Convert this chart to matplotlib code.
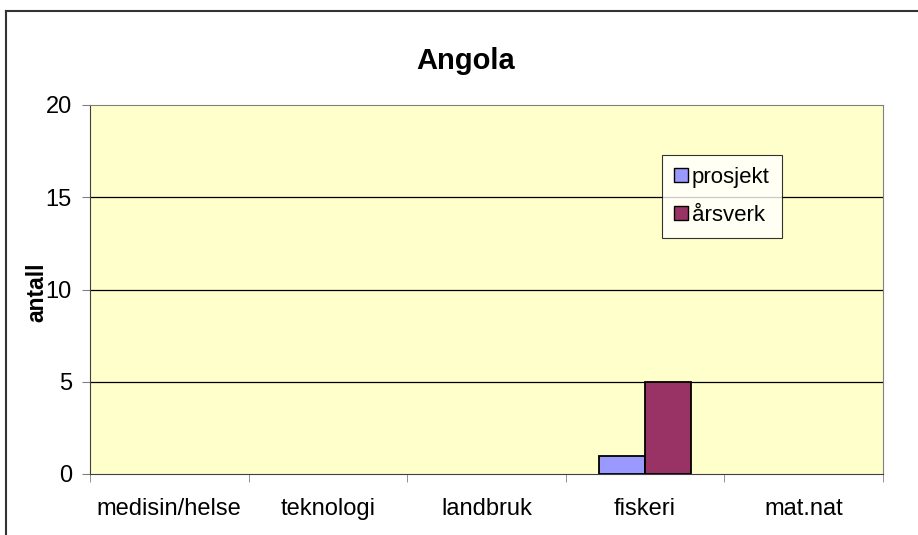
import numpy as np
import matplotlib.pyplot as plt
from matplotlib.lines import Line2D
from matplotlib.patches import Patch

plt.rcParams['font.family'] = ['Liberation Sans', 'DejaVu Sans']

categories = ["medisin/helse", "teknologi", "landbruk", "fiskeri", "mat.nat"]
prosjekt = [0, 0, 0, 1, 0]
aarsverk = [0, 0, 0, 5, 0]
yticks = [0, 5, 10, 15, 20]

BLUE, PLUM = "#9999FF", "#993366"

W, H = 918, 535
fig = plt.figure(figsize=(W / 100, H / 100), dpi=100)
ax = fig.add_axes([90 / W, 1 - 474 / H, (883 - 90) / W, (474 - 105) / H])
ax.set_facecolor("#FFFFCC")


def edges(vals):
    # Excel draws nothing for empty bars
    return ["black" if v else "none" for v in vals]


x = np.arange(len(categories))
bw = 0.29
ax.bar(x - bw / 2, prosjekt, bw, color=BLUE, edgecolor=edges(prosjekt),
       linewidth=1.3, zorder=3)
ax.bar(x + bw / 2, aarsverk, bw, color=PLUM, edgecolor=edges(aarsverk),
       linewidth=1.3, zorder=3)

ax.set_xlim(-0.5, len(categories) - 0.5)
ax.set_ylim(0, 20)
ax.set_yticks(yticks)
ax.set_yticklabels([str(v) for v in yticks], fontsize=17)
for v in yticks[1:-1]:
    ax.axhline(v, color="black", linewidth=0.9, zorder=1)

# category labels centred, tick marks on the boundaries
ax.set_xticks(x)
ax.set_xticklabels(categories, fontsize=17)
ax.tick_params(axis="x", length=0, pad=17)
ax.set_xticks(np.arange(len(categories) + 1) - 0.5, minor=True)
ax.tick_params(axis="x", which="minor", length=6, direction="out", color="#808080")
ax.tick_params(axis="y", length=6, direction="out", color="#808080", pad=7)

for side in ["top", "right"]:
    ax.spines[side].set_color("#808080")
for side in ["left", "bottom"]:
    ax.spines[side].set_color("#404040")

ax.set_ylabel("antall", fontsize=16.5, fontweight="bold")
ax.yaxis.set_label_coords((48 - 90) / 793, (474 - 292) / 369)
ax.set_title("Angola", fontsize=21, fontweight="bold", pad=26, x=(466 - 90) / 793)

handles = [Patch(facecolor=BLUE, edgecolor="black", linewidth=1.0, label="prosjekt"),
           Patch(facecolor=PLUM, edgecolor="black", linewidth=1.0, label="årsverk")]
leg = ax.legend(handles=handles, loc="upper left",
                bbox_to_anchor=((662 - 90) / 793, 1 - (155 - 105) / 369),
                fontsize=16, frameon=True, fancybox=False, edgecolor="black",
                handlelength=0.6, handleheight=0.6, handletextpad=0.2,
                borderpad=0.55, labelspacing=0.75, borderaxespad=0)
leg.get_frame().set_linewidth(0.8)

# outer chart frame (right and bottom sides are cropped off)
frame = dict(transform=fig.transFigure, color="#333333", linewidth=1.5)
fig.add_artist(Line2D([6 / W, 6 / W], [0, 1 - 11 / H], **frame))
fig.add_artist(Line2D([6 / W, 1], [1 - 11 / H, 1 - 11 / H], **frame))

fig.savefig("out.png", dpi=100)
